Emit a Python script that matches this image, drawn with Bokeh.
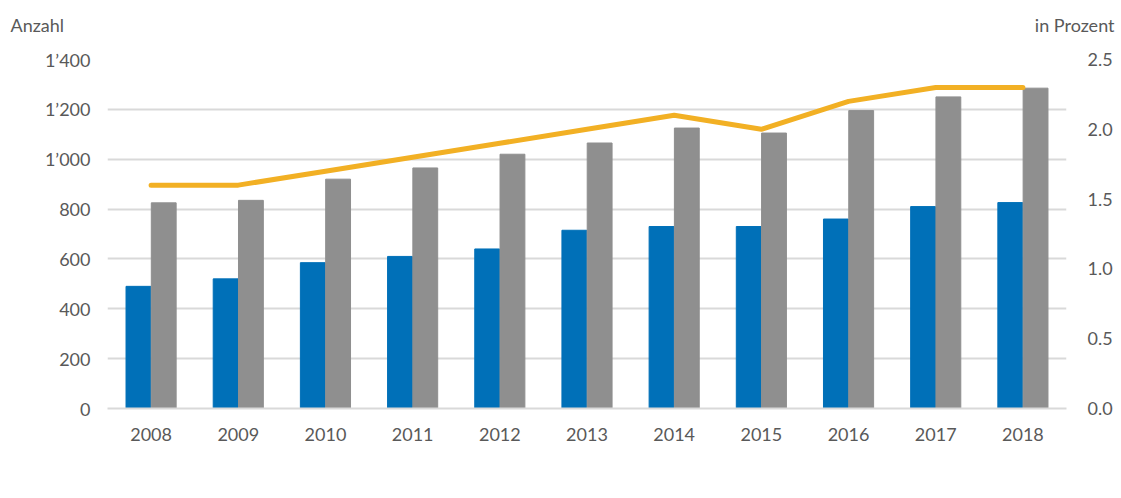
from bokeh.plotting import figure
from bokeh.models import FactorRange, Range1d, LinearAxis, Legend, LegendItem, Label, FixedTicker
from bokeh.transform import dodge
from bokeh.embed import file_html
from bokeh.resources import INLINE

years = [str(y) for y in range(2008, 2019)]
faelle = [490, 520, 585, 610, 640, 715, 730, 730, 760, 810, 826]
personen = [825, 835, 920, 965, 1020, 1065, 1125, 1105, 1195, 1250, 1285]
quote = [1.6, 1.6, 1.7, 1.8, 1.9, 2.0, 2.1, 2.0, 2.2, 2.3, 2.3]
left_ticks = [0, 200, 400, 600, 800, 1000, 1200, 1400]
left_labels = ["0", "200", "400", "600", "800", "1’000", "1’200", "1’400"]
right_ticks = [0.0, 0.5, 1.0, 1.5, 2.0, 2.5]
right_labels = ["0.0", "0.5", "1.0", "1.5", "2.0", "2.5"]

FONT = "Lato"
TXT = "#595959"
BLUE = "#0070B8"
GREY = "#8F8F8F"
ORANGE = "#F2B024"

p = figure(x_range=FactorRange(*years, range_padding=0), y_range=Range1d(0, 1400),
           frame_width=959, frame_height=349, output_backend="svg", toolbar_location=None,
           min_border_left=107, min_border_right=55, min_border_top=59, min_border_bottom=56)
p.extra_y_ranges = {"pct": Range1d(0, 2.5)}
p.outline_line_color = None
p.background_fill_color = "white"

r1 = p.vbar(x=dodge("x", -0.145, range=p.x_range), top="f", width=0.285, color=BLUE,
            source=dict(x=years, f=faelle, p=personen))
r2 = p.vbar(x=dodge("x", 0.145, range=p.x_range), top="p", width=0.285, color=GREY,
            source=r1.data_source)
r3 = p.line(x=years, y=quote, y_range_name="pct", line_color=ORANGE, line_width=5,
            line_cap="round", line_join="round")

# axes
ya = p.yaxis[0]
ya.ticker = FixedTicker(ticks=left_ticks)
ya.major_label_overrides = {t: l for t, l in zip(left_ticks, left_labels)}
ax2 = LinearAxis(y_range_name="pct", ticker=FixedTicker(ticks=right_ticks),
                 major_label_overrides={t: l for t, l in zip(right_ticks, right_labels)})
p.add_layout(ax2, "right")
for ax in (ya, ax2):
    ax.axis_line_color = None
    ax.major_tick_line_color = None
    ax.minor_tick_line_color = None
    ax.major_tick_out = 0
    ax.minor_tick_out = 0
ya.major_label_standoff = 17
ax2.major_label_standoff = 21
for ax in (ya, ax2, p.xaxis[0]):
    ax.major_label_text_font = FONT
    ax.major_label_text_font_size = "18px"
    ax.major_label_text_color = TXT
xa = p.xaxis[0]
xa.axis_line_color = "#D9D9D9"
xa.axis_line_width = 2
xa.major_tick_line_color = None
xa.minor_tick_line_color = None
xa.major_tick_out = 0
xa.major_label_standoff = 19
xa.axis_label = "\u00a0"
xa.axis_label_text_font_size = "12px"
xa.axis_label_standoff = 1

p.xgrid.grid_line_color = None
p.ygrid.ticker = FixedTicker(ticks=left_ticks)
p.ygrid.grid_line_color = "#D9D9D9"
p.ygrid.grid_line_width = 2

legend = Legend(items=[LegendItem(label="Fälle", renderers=[r1]),
                       LegendItem(label="Personen", renderers=[r2]),
                       LegendItem(label="Sozialhilfequote", renderers=[r3])],
                orientation="horizontal", location="top_left",
                glyph_width=50, glyph_height=14, label_standoff=8, spacing=16,
                label_text_font=FONT, label_text_font_size="18px", label_text_color=TXT,
                border_line_color=None, background_fill_alpha=0, margin=13, padding=0)
p.add_layout(legend, "below")

p.add_layout(Label(x=-97, y=35, x_units="screen", y_units="screen", text="Anzahl",
                   text_font=FONT, text_font_size="18px", text_color=TXT,
                   text_baseline="middle", text_align="left"), "above")
p.add_layout(Label(x=1007, y=13, x_units="screen", y_units="screen", text="in Prozent",
                   text_font=FONT, text_font_size="18px", text_color=TXT,
                   text_baseline="middle", text_align="right"), "above")

open("out.html", "w").write(file_html(p, INLINE))
